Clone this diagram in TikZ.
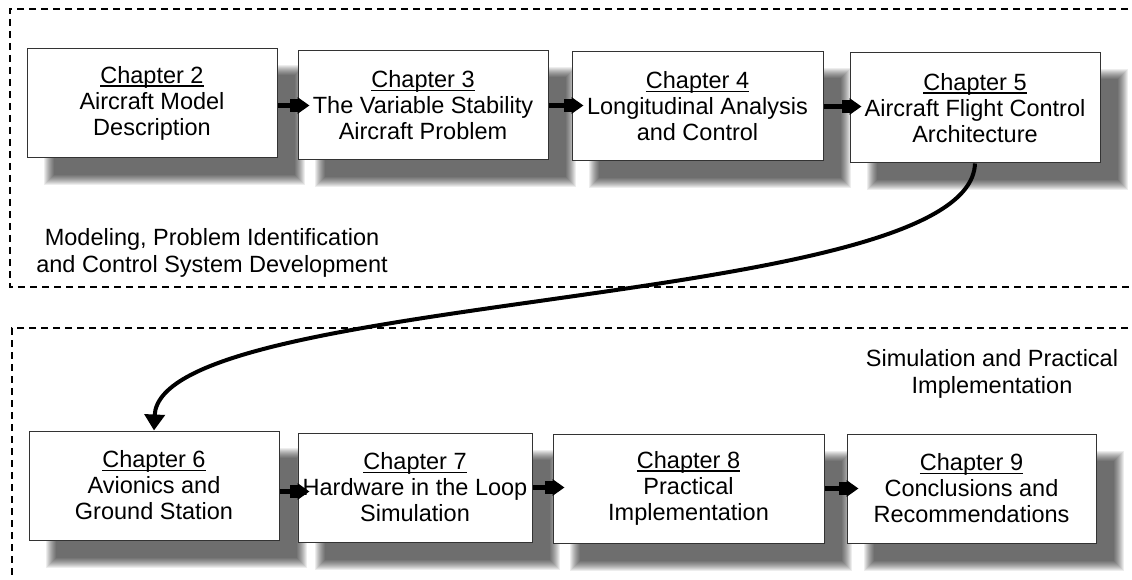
\documentclass[tikz,border=0pt]{standalone}
\usepackage{fontspec}
\setmainfont{Liberation Sans}
\usetikzlibrary{calc,arrows.meta}
\newcommand{\chapul}[1]{\setbox0\hbox{#1}\rlap{\rule[-3.2pt]{\wd0}{1.3pt}}\box0}
\tikzset{
  chap/.style={draw=black!80, line width=1pt, fill=white, inner sep=0pt,
    align=center, font=\fontsize{23.5}{26}\selectfont},
  lbl/.style={inner sep=0pt, align=center, font=\fontsize{23.5}{27}\selectfont},
  group/.style={line width=1.8pt, dash pattern=on 7pt off 5pt},
  flow/.style={line width=5pt, -{Rectangle[length=8pt,width=13pt,sep=0pt]Triangle[length=12pt,width=16pt]}},
  link/.style={line width=4pt, -{Triangle[length=16pt,width=20pt]}}
}
\newcommand{\boxshadow}[1]{%
  \foreach \k in {0,...,10}{%
    \fill[black,opacity=0.07] ($(#1.north west)+(17+\k,17+\k)$) rectangle ($(#1.south east)+(27-\k,27-\k)$);}}
\begin{document}
\begin{tikzpicture}[x=1pt,y=-1pt]
\useasboundingbox (0,0) rectangle (1132,580);
\fill[white] (0,0) rectangle (1132,580);
% group frames
\draw[group] (1140,9) -- (10,9) -- (10,287) -- (1140,287);
\draw[group] (1140,328) -- (12,328) -- (12,590);
% nodes (placed, drawn later above shadows)
\path
  node[chap, minimum width=250pt, minimum height=109pt] (c2) at (152,103.5) {\chapul{Chapter 2}\\Aircraft Model\\Description}
  node[chap, minimum width=250pt, minimum height=109pt] (c3) at (423,105.5) {\chapul{Chapter 3}\\The Variable Stability\\Aircraft Problem}
  node[chap, minimum width=251pt, minimum height=109pt] (c4) at (697.5,106.5) {\chapul{Chapter 4}\\Longitudinal Analysis\\and Control}
  node[chap, minimum width=250pt, minimum height=110pt] (c5) at (975,108) {\chapul{Chapter 5}\\Aircraft Flight Control\\Architecture}
  node[chap, minimum width=250pt, minimum height=109pt] (c6) at (154,485.5) {\chapul{Chapter 6}\\Avionics and\\Ground Station}
  node[chap, minimum width=234pt, minimum height=109pt] (c7) at (415,487.5) {\chapul{Chapter 7}\\Hardware in the Loop\\Simulation}
  node[chap, minimum width=271pt, minimum height=109pt] (c8) at (688.5,488.5) {\chapul{Chapter 8}\\Practical\\Implementation}
  node[chap, minimum width=249pt, minimum height=109pt] (c9) at (971.5,488.5) {\chapul{Chapter 9}\\Conclusions and\\Recommendations};
% shadows
\boxshadow{c2}\boxshadow{c3}\boxshadow{c4}\boxshadow{c5}
\boxshadow{c6}\boxshadow{c7}\boxshadow{c8}\boxshadow{c9}
% redraw boxes on top
\node[chap, minimum width=250pt, minimum height=109pt] at (c2) {\chapul{Chapter 2}\\Aircraft Model\\Description};
\node[chap, minimum width=250pt, minimum height=109pt] at (c3) {\chapul{Chapter 3}\\The Variable Stability\\Aircraft Problem};
\node[chap, minimum width=251pt, minimum height=109pt] at (c4) {\chapul{Chapter 4}\\Longitudinal Analysis\\and Control};
\node[chap, minimum width=250pt, minimum height=110pt] at (c5) {\chapul{Chapter 5}\\Aircraft Flight Control\\Architecture};
\node[chap, minimum width=250pt, minimum height=109pt] at (c6) {\chapul{Chapter 6}\\Avionics and\\Ground Station};
\node[chap, minimum width=234pt, minimum height=109pt] at (c7) {\chapul{Chapter 7}\\Hardware in the Loop\\Simulation};
\node[chap, minimum width=271pt, minimum height=109pt] at (c8) {\chapul{Chapter 8}\\Practical\\Implementation};
\node[chap, minimum width=249pt, minimum height=109pt] at (c9) {\chapul{Chapter 9}\\Conclusions and\\Recommendations};
% group labels
\node[lbl] (g1) at (212,252.5) {Modeling, Problem Identification\\and Control System Development};
\node[lbl] (g2) at (992,374) {Simulation and Practical\\Implementation};
% connectors
\draw[flow] ($(c2.east)+(0,2)$) -- ($(c2.east -| c3.west)+(12,2)$);
\draw[flow] ($(c3.east)+(0,0)$) -- ($(c3.east -| c4.west)+(12,0)$);
\draw[flow] ($(c4.east)+(0,0)$) -- ($(c4.east -| c5.west)+(12,0)$);
\draw[flow] ($(c6.east)+(0,6)$) -- ($(c6.east -| c7.west)+(12,6)$);
\draw[flow] ($(c7.east)+(0,0)$) -- ($(c7.east -| c8.west)+(12,0)$);
\draw[flow] ($(c8.east)+(0,0)$) -- ($(c8.east -| c9.west)+(12,0)$);
\draw[link] (c5.south) .. controls (970,310) and (160,290) .. (c6.north);
\end{tikzpicture}
\end{document}
